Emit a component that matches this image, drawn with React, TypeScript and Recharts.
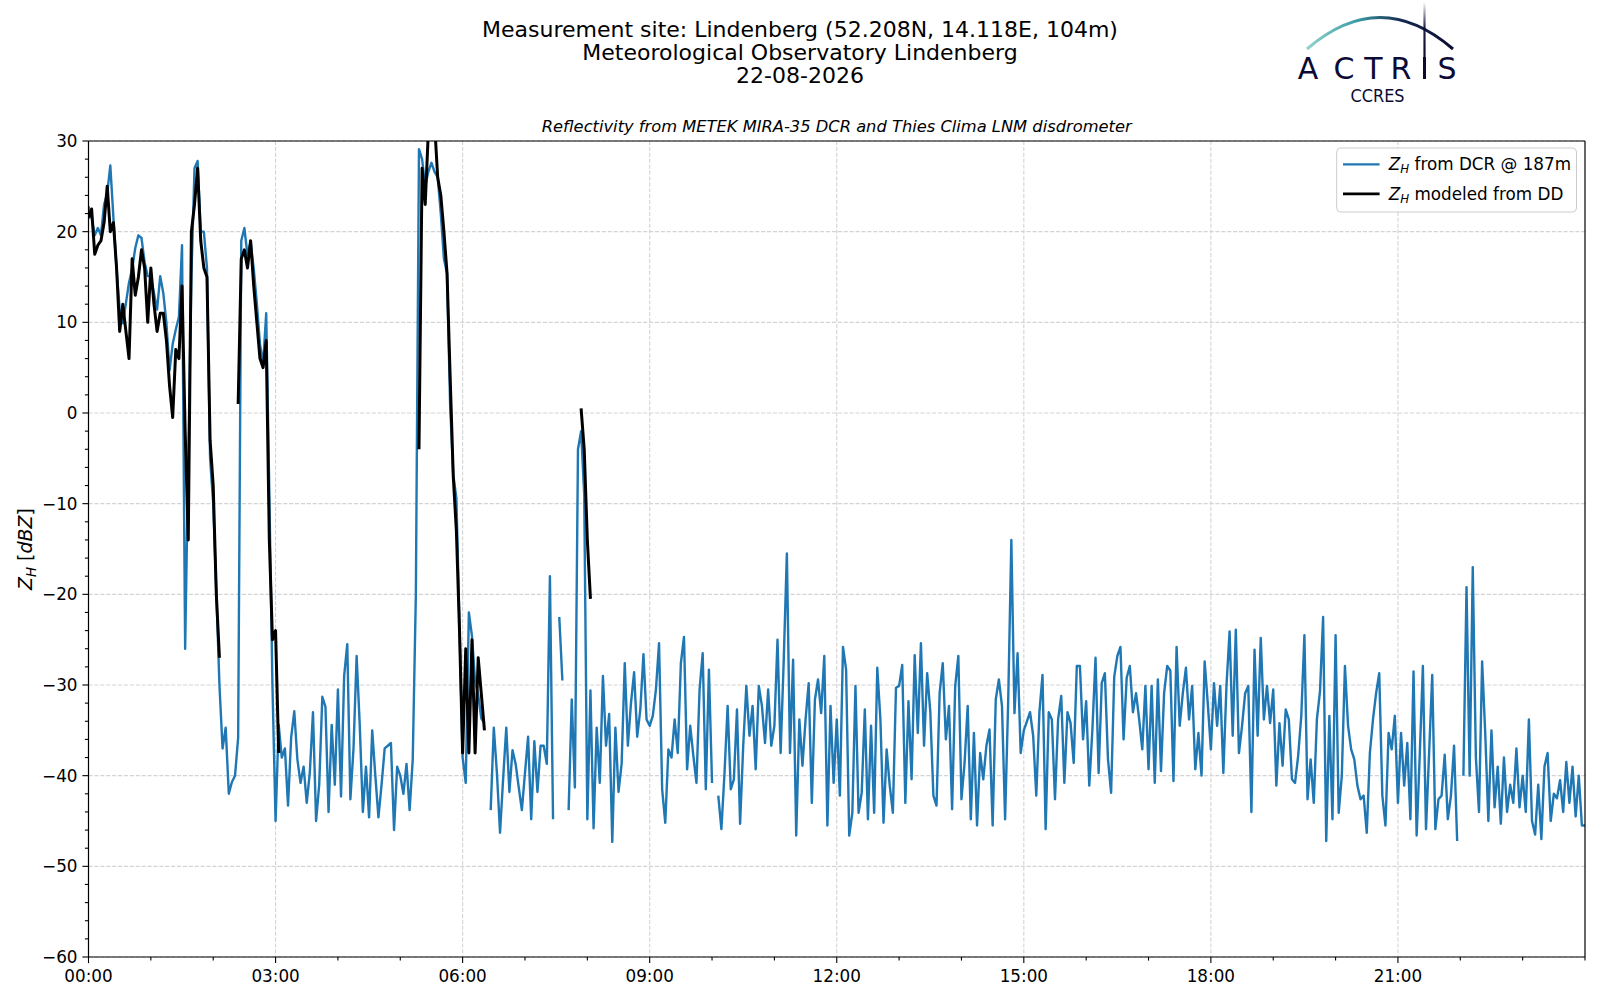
import { LineChart, Line, XAxis, YAxis, CartesianGrid, ReferenceLine } from 'recharts'

// 3-minute samples, one row per hour
const STEP_HOURS = 0.05

// Z_H from the cloud radar @ 187 m [dBZ], 00:00 .. 24:00
const dcrZh: (number | null)[] = [
  22.8, 21.5, 19.6, 20.4, 19.6, 23, 24.2, 27.3, 21.5, 15.9, 11.4, 9.9, 12.1, 14.4, 15.9, 18.2, 19.6, 19.3, 16.6, 15.1,
  15.1, 13.2, 11.4, 15.1, 13.2, 9.9, 4.7, 7.6, 9.2, 10.6, 18.5, -26, -5, 15, 27, 27.8, 20, 20, 16, -5,
  -10, -19.7, -30, -37, -34.7, -42, -40.7, -40, -35.8, 19, 20.4, 17.4, 18.9, 15.9, 12.1, 7.6, 5.4, 11, -8.8, -30,
  -45, -34.4, -38, -37, -43.3, -35.8, -32.9, -38.2, -40.8, -39, -43, -39.6, -33, -45, -41, -31.3, -32.4, -44, -34.4, -41,
  -30.5, -42.3, -29, -25.5, -42.6, -37, -26.8, -34.4, -44, -39, -44.6, -35, -40, -44.6, -41, -37, -36.7, -36.4, -46, -39,
  -40, -42, -38.7, -43.8, -38.2, -20, 29.1, 28, 25, 26.6, 27.6, 26.6, 26, 22, 17, 15.4, 0.8, -6.8, -9.4, -23.5,
  -38, -40.8, -22, -24.6, -29.6, -31.1, -33.7, -34.2, null, -43.8, -34.7, -39.7, -46.3, -40.3, -34.7, -41.8, -37.2, -38.7, -41.3, -43.8,
  -39.7, -35.7, -44.8, -36.2, -41.8, -36.7, -36.7, -38.7, -18, -44.8, null, -22.5, -29.5, null, -43.8, -31.6, -41.3, -4, -2, -9,
  -44.8, -30.6, -45.8, -34.7, -40.8, -29, -36.7, -33.2, -47.3, -34.7, -41.8, -38.7, -27.6, -36.7, -32, -28.6, -35.7, -32.7, -26.6, -33.8,
  -34.5, -33.4, -30.5, -25.4, -41.5, -45.2, -37.1, -38, -33.8, -37.5, -27.6, -24.7, -39.3, -34.5, -37.8, -40.8, -30.5, -26.5, -41.5, -28.3,
  -40.8, null, -42.2, -45.9, -39.7, -32.3, -41.5, -40.4, -32.7, -45.3, -36.7, -30.1, -35.6, -32.3, -39.3, -30.1, -32.3, -36.4, -30.5, -36.7,
  -34.5, -25, -37.5, -27.2, -15.5, -37.5, -27.2, -46.6, -33.8, -38.9, -33.8, -29.8, -43, -31.6, -29.4, -33.1, -26.8, -45.5, -32.3, -40.8,
  -33.8, -42.2, -25.8, -28.3, -46.6, -44.1, -30.1, -44.1, -41.9, -32.7, -44.8, -34.5, -44.1, -28.1, -33.8, -45.2, -37.1, -41.1, -44.1, -30.3,
  -30.1, -27.8, -43, -31.8, -40.4, -26.7, -35.3, -25.4, -36.7, -28.7, -32.9, -42.2, -43.3, -30.9, -27.6, -36, -32.3, -43.7, -30.1, -26.8,
  -42.6, -38.6, -32.3, -44.8, -35.3, -45.5, -37.5, -40.4, -36.7, -34.9, -45.5, -31.6, -29.4, -32.3, -44.8, -31.6, -14, -33.1, -26.5, -37.5,
  -35, -34, -33, -35.6, -42.2, -33, -28.9, -45.9, -33, -33.8, -42.6, -33.8, -31.2, -40.8, -33, -34.2, -38.6, -27.9, -27.9, -36,
  -31.8, -41.1, -34.9, -27, -39.7, -29.8, -28.7, -38.2, -41.9, -29.1, -26.8, -25.8, -36, -29.2, -27.9, -33, -30.9, -33.8, -37.1, -30.1,
  -39.3, -30.1, -40.8, -29.4, -39.5, -30.9, -27.9, -28.4, -40.6, -25.8, -34.5, -30.9, -28.1, -33.8, -30.1, -39.3, -35.3, -40, -27.4, -32,
  -37.1, -29.8, -34.5, -30.1, -39.7, -30.1, -24.1, -35.6, -23.9, -37.5, -34.5, -30.9, -30.1, -44, -26.1, -35.6, -24.8, -33.8, -30.1, -34.2,
  -30.5, -41.1, -34.2, -38.9, -32.7, -33.8, -40.4, -40.8, -37.8, -33.4, -24.5, -42.6, -38.2, -43, -33.8, -30.7, -22.5, -47.2, -33.4, -44.8,
  -24.5, -44.1, -40, -27.9, -34.5, -37.1, -38.2, -41.1, -42.6, -42.2, -46.3, -37.5, -33.8, -30.9, -28.7, -42.2, -45.5, -35.3, -37.1, -33.4,
  -43, -35.3, -41.1, -36.4, -44.8, -28.5, -46.6, -37.7, -27.9, -45.9, -37.5, -28.9, -45.9, -42.6, -42.2, -37.7, -44.8, -42.2, -36.7, -47.2,
  null, -40, -19.2, -40, -17, -38, -44, -27.4, -35.3, -45, -35, -43.5, -39, -45.3, -38, -44, -41, -43, -37, -43.5,
  -40, -44, -33.8, -45, -46.5, -41, -47, -39, -37.5, -45, -42, -42.5, -40.5, -44, -38.5, -43, -39, -44.5, -40, -45.5, -45.5,
]

// Z_H modeled from the disdrometer, only during the rain events
const ddNightStart = 0
const ddNight: (number | null)[] = [
  21.5, 22.5, 17.5, 18.5, 19, 21, 25, 20, 21, 16, 9, 12, 9, 6, 17, 13, 15, 18, 16, 10,
  16, 12, 9, 11, 11, 8, 3, -0.5, 7, 6, 14, -2, -14, 20, 23, 27, 19, 16, 15, -3,
  -8, -20, -27, null, null, null, null, null, 1, 17, 18, 16, 19, 14, 10, 6, 5, 8, -14, -25,
  -24, -37.5,
]
const ddMorningStart = 5.3
const ddMorning = [
  -4, 27, 23, 31, 33, 32, 26, 24, 20, 15.4, 4, -7, -13, -24,
  -37.5, -26, -37.5, -25, -37.5, -27, -31, -35,
]
const ddShowerStart = 7.9
const ddShower = [0.5, -4, -14, -20.5]

const X_TICKS = [0, 1, 2, 3, 4, 5, 6, 7, 8, 9, 10, 11, 12, 13, 14, 15, 16, 17, 18, 19, 20, 21, 22, 23, 24]
const X_MAJOR = [0, 3, 6, 9, 12, 15, 18, 21]
const Y_TICKS = Array.from({ length: 46 }, (_, i) => -60 + 2 * i)
const Y_MAJOR = [-60, -50, -40, -30, -20, -10, 0, 10, 20, 30]

const FONT = '"DejaVu Sans", sans-serif'
const BLUE = '#1f77b4'
const NAVY = '#0b0b35'
const TICK_FONT = 16.8

const data = dcrZh.map((v, i) => ({ t: +(i * STEP_HOURS).toFixed(2), dcr: v, dd: null as number | null }))
for (const [start, seg] of [
  [ddNightStart, ddNight],
  [ddMorningStart, ddMorning],
  [ddShowerStart, ddShower],
] as [number, (number | null)[]][]) {
  const i0 = Math.round(start / STEP_HOURS)
  seg.forEach((v, k) => {
    data[i0 + k].dd = v
  })
}

function HourTick({ x, y, payload }: any) {
  const major = X_MAJOR.includes(payload.value)
  const label = `${String(payload.value).padStart(2, '0')}:00`
  return (
    <g>
      <line x1={x} x2={x} y1={y} y2={y + (major ? 6.1 : 3.6)} stroke="#000" strokeWidth={1.1} />
      {major && (
        <text x={x} y={y + 24.5} textAnchor="middle" fontSize={TICK_FONT} fontFamily={FONT} fill="#000">
          {label}
        </text>
      )}
    </g>
  )
}

function DbzTick({ x, y, payload }: any) {
  const major = Y_MAJOR.includes(payload.value)
  const label = payload.value < 0 ? `\u2212${Math.abs(payload.value)}` : `${payload.value}`
  return (
    <g>
      <line x1={x - (major ? 6.1 : 3.6)} x2={x} y1={y} y2={y} stroke="#000" strokeWidth={1.1} />
      {major && (
        <text x={x - 11} y={y} dy="0.36em" textAnchor="end" fontSize={TICK_FONT} fontFamily={FONT} fill="#000">
          {label}
        </text>
      )}
    </g>
  )
}

function Logo() {
  return (
    <g>
      <defs>
        <linearGradient id="arcGrad" x1="1307" y1="0" x2="1453" y2="0" gradientUnits="userSpaceOnUse">
          <stop offset="0" stopColor="#8fd3cc" />
          <stop offset="0.35" stopColor="#3a9aa3" />
          <stop offset="0.65" stopColor="#15294f" />
          <stop offset="1" stopColor={NAVY} />
        </linearGradient>
        <linearGradient id="barGrad" x1="0" y1="2" x2="0" y2="52" gradientUnits="userSpaceOnUse">
          <stop offset="0" stopColor={NAVY} stopOpacity={0} />
          <stop offset="0.5" stopColor={NAVY} stopOpacity={0.9} />
          <stop offset="1" stopColor={NAVY} />
        </linearGradient>
      </defs>
      <path d="M1307 49 Q1380 -14 1453 49" fill="none" stroke="url(#arcGrad)" strokeWidth={3} />
      <line x1={1424.5} x2={1424.5} y1={2} y2={58} stroke="url(#barGrad)" strokeWidth={2.2} />
      <rect x={1423} y={57} width={3} height={22} fill={NAVY} />
      {[
        ['A', 1308],
        ['C', 1344],
        ['T', 1373.5],
        ['R', 1401],
        ['S', 1447],
      ].map(([ch, cx]) => (
        <text key={ch} x={cx} y={79} textAnchor="middle" fontSize={30} fontFamily={FONT} fill={NAVY}>
          {ch}
        </text>
      ))}
      <text x={1377.5} y={102} textAnchor="middle" fontSize={17} fontFamily={FONT} fill={NAVY} textLength={54} lengthAdjust="spacingAndGlyphs">
        CCRES
      </text>
    </g>
  )
}

function LegendBox() {
  const rows = [
    { color: BLUE, width: 2.2, text: ' from DCR @ 187m', y: 164.3 },
    { color: '#000', width: 2.9, text: ' modeled from DD', y: 193.9 },
  ]
  return (
    <g fontFamily={FONT}>
      <rect x={1336.7} y={148} width={239.8} height={64} rx={4} fill="#fff" fillOpacity={0.8} stroke="#cccccc" />
      {rows.map((r) => (
        <g key={r.text}>
          <line x1={1343} x2={1379.6} y1={r.y} y2={r.y} stroke={r.color} strokeWidth={r.width} />
          <text x={1388.8} y={r.y + 6} fontSize={16.8} fill="#000">
            <tspan fontStyle="italic">Z</tspan>
            <tspan fontStyle="italic" fontSize={11.8} dy={3}>H</tspan>
            <tspan dy={-3}>{r.text}</tspan>
          </text>
        </g>
      ))}
    </g>
  )
}

export default function App() {
  return (
    <div style={{ position: 'relative', width: 1600, height: 1000, background: '#fff' }}>
      <style>{'body{margin:0}'}</style>
      <LineChart width={1600} height={1000} data={data} margin={{ top: 141, right: 15, bottom: 0, left: 0 }}>
        <CartesianGrid
          stroke="#d3d3d3"
          strokeDasharray="4.1 1.8"
          strokeWidth={1.1}
          horizontalValues={Y_MAJOR}
          verticalValues={X_MAJOR}
        />
        <XAxis
          dataKey="t"
          type="number"
          domain={[0, 24]}
          allowDataOverflow
          ticks={X_TICKS}
          interval={0}
          tickSize={0}
          tickMargin={0}
          tick={<HourTick />}
          height={43}
          stroke="#000"
          axisLine={{ stroke: '#000', strokeWidth: 1.2 }}
        />
        <YAxis
          type="number"
          domain={[-60, 30]}
          allowDataOverflow
          ticks={Y_TICKS}
          interval={0}
          tickSize={0}
          tickMargin={0}
          tick={<DbzTick />}
          width={88.5}
          stroke="#000"
          axisLine={{ stroke: '#000', strokeWidth: 1.2 }}
        />
        <Line
          type="linear"
          dataKey="dcr"
          stroke={BLUE}
          strokeWidth={2.4}
          strokeLinejoin="round"
          dot={false}
          activeDot={false}
          isAnimationActive={false}
        />
        <Line
          type="linear"
          dataKey="dd"
          stroke="#000"
          strokeWidth={3}
          strokeLinejoin="round"
          dot={false}
          activeDot={false}
          isAnimationActive={false}
        />
        <ReferenceLine y={30} stroke="#000" strokeWidth={1.2} />
        <ReferenceLine x={24} stroke="#000" strokeWidth={1.2} />
      </LineChart>
      <svg width={1600} height={1000} style={{ position: 'absolute', left: 0, top: 0, pointerEvents: 'none' }}>
        <g fontFamily={FONT} fill="#000" textAnchor="middle">
          <text x={800} y={37} fontSize={22}>Measurement site: Lindenberg (52.208N, 14.118E, 104m)</text>
          <text x={800} y={60} fontSize={22}>Meteorological Observatory Lindenberg</text>
          <text x={800} y={83} fontSize={22}>22-08-2026</text>
          <text x={836.7} y={131.5} fontSize={16.3} fontStyle="italic">
            Reflectivity from METEK MIRA-35 DCR and Thies Clima LNM disdrometer
          </text>
          <text transform="translate(32,549) rotate(-90)" fontSize={19}>
            <tspan fontStyle="italic">Z</tspan>
            <tspan fontStyle="italic" fontSize={13.3} dy={4}>H</tspan>
            <tspan dy={-4}> [</tspan>
            <tspan fontStyle="italic">dBZ</tspan>
            <tspan>]</tspan>
          </text>
        </g>
        <Logo />
        <LegendBox />
      </svg>
    </div>
  )
}
